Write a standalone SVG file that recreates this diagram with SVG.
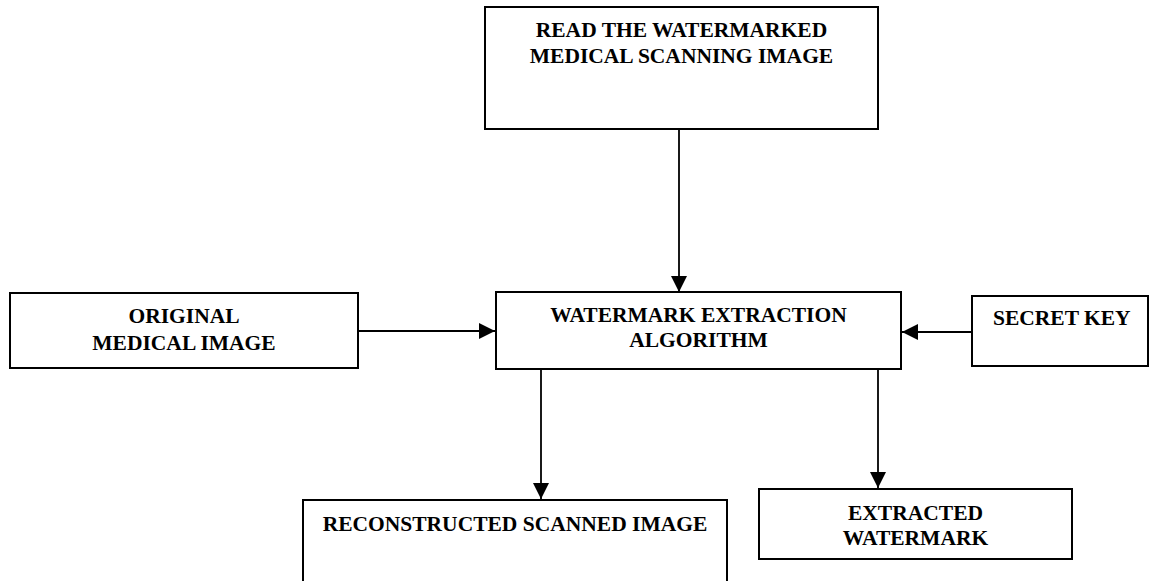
<svg xmlns="http://www.w3.org/2000/svg" width="1149" height="581" viewBox="0 0 1149 581">
  <style>
    .box { fill: #ffffff; stroke: #000000; stroke-width: 2; }
    .lbl { font-family: "Liberation Serif", "Times New Roman", serif; font-weight: bold; font-size: 21.5px; fill: #000000; }
    .mid { text-anchor: middle; }
    .conn { stroke: #000000; stroke-width: 1.8; fill: none; marker-end: url(#arrow); }
  </style>
  <defs>
    <marker id="arrow" markerUnits="userSpaceOnUse" markerWidth="16" markerHeight="16" viewBox="0 0 16 16" refX="16" refY="8" orient="auto">
      <path d="M0,0 L16,8 L0,16 Z" fill="#000000"/>
    </marker>
  </defs>
  <rect width="1149" height="581" fill="#ffffff"/>

  <g id="read-watermarked">
    <rect class="box" x="485" y="7" width="393" height="122"/>
    <text class="lbl mid" x="681.5" y="37">READ THE WATERMARKED</text>
    <text class="lbl mid" x="681.5" y="63">MEDICAL SCANNING IMAGE</text>
  </g>

  <g id="original-image">
    <rect class="box" x="10" y="293" width="348" height="75"/>
    <text class="lbl mid" x="184" y="323">ORIGINAL</text>
    <text class="lbl mid" x="184" y="350">MEDICAL IMAGE</text>
  </g>

  <g id="extraction-algorithm">
    <rect class="box" x="496" y="292" width="405" height="77"/>
    <text class="lbl mid" x="698.5" y="322">WATERMARK EXTRACTION</text>
    <text class="lbl mid" x="698.5" y="347">ALGORITHM</text>
  </g>

  <g id="secret-key">
    <rect class="box" x="972" y="296" width="176" height="70"/>
    <text class="lbl" x="993" y="325">SECRET KEY</text>
  </g>

  <g id="reconstructed-image">
    <rect class="box" x="303" y="500" width="424" height="90"/>
    <text class="lbl mid" x="515" y="531">RECONSTRUCTED SCANNED IMAGE</text>
  </g>

  <g id="extracted-watermark">
    <rect class="box" x="759" y="489" width="313" height="70"/>
    <text class="lbl mid" x="915.5" y="520">EXTRACTED</text>
    <text class="lbl mid" x="915.5" y="545">WATERMARK</text>
  </g>

  <g id="connectors">
    <line class="conn" x1="679" y1="129" x2="679" y2="292"/>
    <line class="conn" x1="358" y1="331" x2="495" y2="331"/>
    <line class="conn" x1="972" y1="332" x2="902" y2="332"/>
    <line class="conn" x1="541" y1="369" x2="541" y2="499"/>
    <line class="conn" x1="878" y1="369" x2="878" y2="488"/>
  </g>
</svg>
